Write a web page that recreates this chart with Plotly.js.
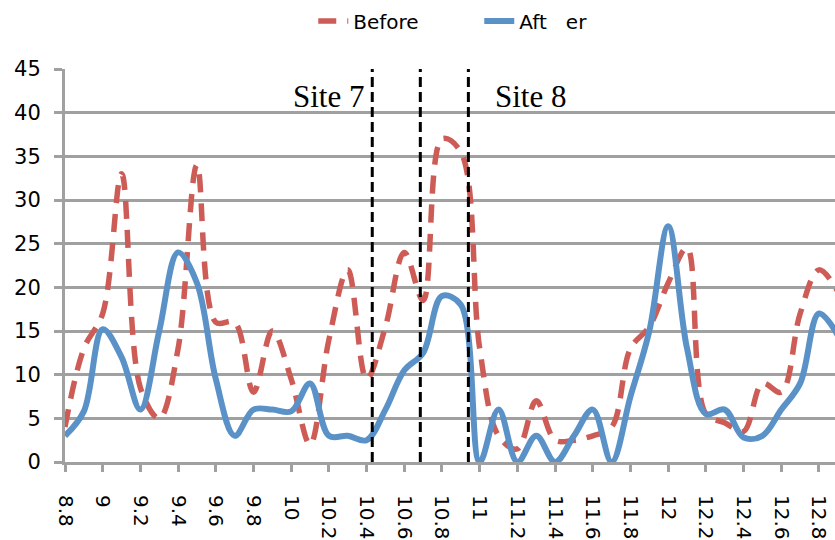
<!DOCTYPE html>
<html>
<head>
<meta charset="utf-8">
<script src="https://cdn.plot.ly/plotly-3.0.1.min.js"></script>
<style>html,body{margin:0;padding:0;background:#fff;}#chart{width:835px;height:540px;}</style>
</head>
<body>
<div id="chart"></div>
<script>
// Position along the axis (0.1 steps)
var positions = [8.8, 8.9, 9.0, 9.1, 9.2, 9.3, 9.4, 9.5, 9.6, 9.7,
                 9.8, 9.9, 10.0, 10.1, 10.2, 10.3, 10.4, 10.5, 10.6, 10.7,
                 10.8, 10.9, 11.0, 11.1, 11.2, 11.3, 11.4, 11.5, 11.6, 11.7,
                 11.8, 11.9, 12.0, 12.1, 12.2, 12.3, 12.4, 12.5, 12.6, 12.7,
                 12.8, 12.9];
var before = [4, 13, 17, 33, 8.5, 5, 13, 34, 16, 16,
              8, 15, 9.5, 2, 14, 22, 9.5, 15.5, 24, 18.5,
              37, 35.5, 13, 3, 1.5, 7, 2.5, 2.5, 3, 4,
              13, 15.5, 20.5, 24.5, 5.5, 4.5, 3.5, 9, 8, 17,
              22, 19.5];
var after = [3, 5.8, 15.2, 12, 6, 15, 24, 20.5, 9.5, 3,
             6, 6, 5.8, 9, 3, 3, 2.5, 6, 10.5, 12.5,
             19, 18, 0, 6, 0, 3, 0, 3, 6, 0,
             7.5, 15, 27, 13, 5.5, 6, 2.8, 3, 6, 9,
             17, 14.5];
var tickValues = [8.8, 9, 9.2, 9.4, 9.6, 9.8, 10, 10.2, 10.4, 10.6, 10.8,
                  11, 11.2, 11.4, 11.6, 11.8, 12, 12.2, 12.4, 12.6, 12.8];
var tickLabels = ['8.8', '9', '9.2', '9.4', '9.6', '9.8', '10', '10.2', '10.4', '10.6', '10.8',
                  '11', '11.2', '11.4', '11.6', '11.8', '12', '12.2', '12.4', '12.6', '12.8'];
var siteDividers = [10.43, 10.685, 10.94];
var siteLabels = ['Site 7', 'Site 8'];

var gridColor = '#a0a0a0';
var font = 'DejaVu Sans, Verdana, sans-serif';

var traces = [
  {x: positions, y: before, name: 'Before', type: 'scatter', mode: 'lines',
   line: {color: '#cd5c57', width: 5.5, dash: '18px,11px', shape: 'spline', smoothing: 1}},
  {x: positions, y: after, name: 'Aft\u00A0\u00A0\u00A0er', type: 'scatter', mode: 'lines',
   line: {color: '#5a92c8', width: 6, shape: 'spline', smoothing: 1}}
];

var shapes = siteDividers.map(function (d) {
  return {type: 'line', xref: 'x', yref: 'paper', x0: d, x1: d, y0: 0, y1: 1,
          line: {color: '#000', width: 3, dash: '10px,5px'}, layer: 'above'};
});

var annotations = [
  {text: siteLabels[0], xref: 'paper', yref: 'paper', x: 0.342, y: 0.931,
   showarrow: false, xanchor: 'center', yanchor: 'middle',
   font: {family: 'Liberation Serif, Times New Roman, serif', size: 31, color: '#000'}},
  {text: siteLabels[1], xref: 'paper', yref: 'paper', x: 0.604, y: 0.931,
   showarrow: false, xanchor: 'center', yanchor: 'middle',
   font: {family: 'Liberation Serif, Times New Roman, serif', size: 31, color: '#000'}}
];

var layout = {
  width: 835, height: 540,
  margin: {l: 65, r: 0, t: 69, b: 78},
  paper_bgcolor: '#fff', plot_bgcolor: '#fff',
  font: {family: font, size: 20, color: '#000'},
  showlegend: true,
  legend: {orientation: 'h', x: 0.538, xanchor: 'center', y: 1.122, yanchor: 'middle',
           entrywidth: 121, entrywidthmode: 'pixels',
           font: {family: font, size: 20, color: '#000'}, traceorder: 'normal'},
  xaxis: {range: [8.8, 12.885], tickmode: 'array', tickvals: tickValues, ticktext: tickLabels,
          tickangle: 90, showgrid: false, zeroline: false, showline: true,
          linecolor: gridColor, linewidth: 3, ticks: 'outside', ticklen: 7,
          tickwidth: 3, tickcolor: gridColor, ticklabelstandoff: 19,
          tickfont: {family: font, size: 20, color: '#000'}},
  yaxis: {range: [0, 45], dtick: 5, tick0: 0, showgrid: true, gridcolor: gridColor,
          gridwidth: 3, zeroline: false, showline: true, linecolor: gridColor,
          linewidth: 3, ticks: 'outside', ticklen: 8, tickwidth: 3, tickcolor: gridColor,
          ticklabelstandoff: 9, tickfont: {family: font, size: 21, color: '#000'}},
  shapes: shapes,
  annotations: annotations
};

Plotly.newPlot('chart', traces, layout, {displayModeBar: false, responsive: false});
</script>
</body>
</html>
